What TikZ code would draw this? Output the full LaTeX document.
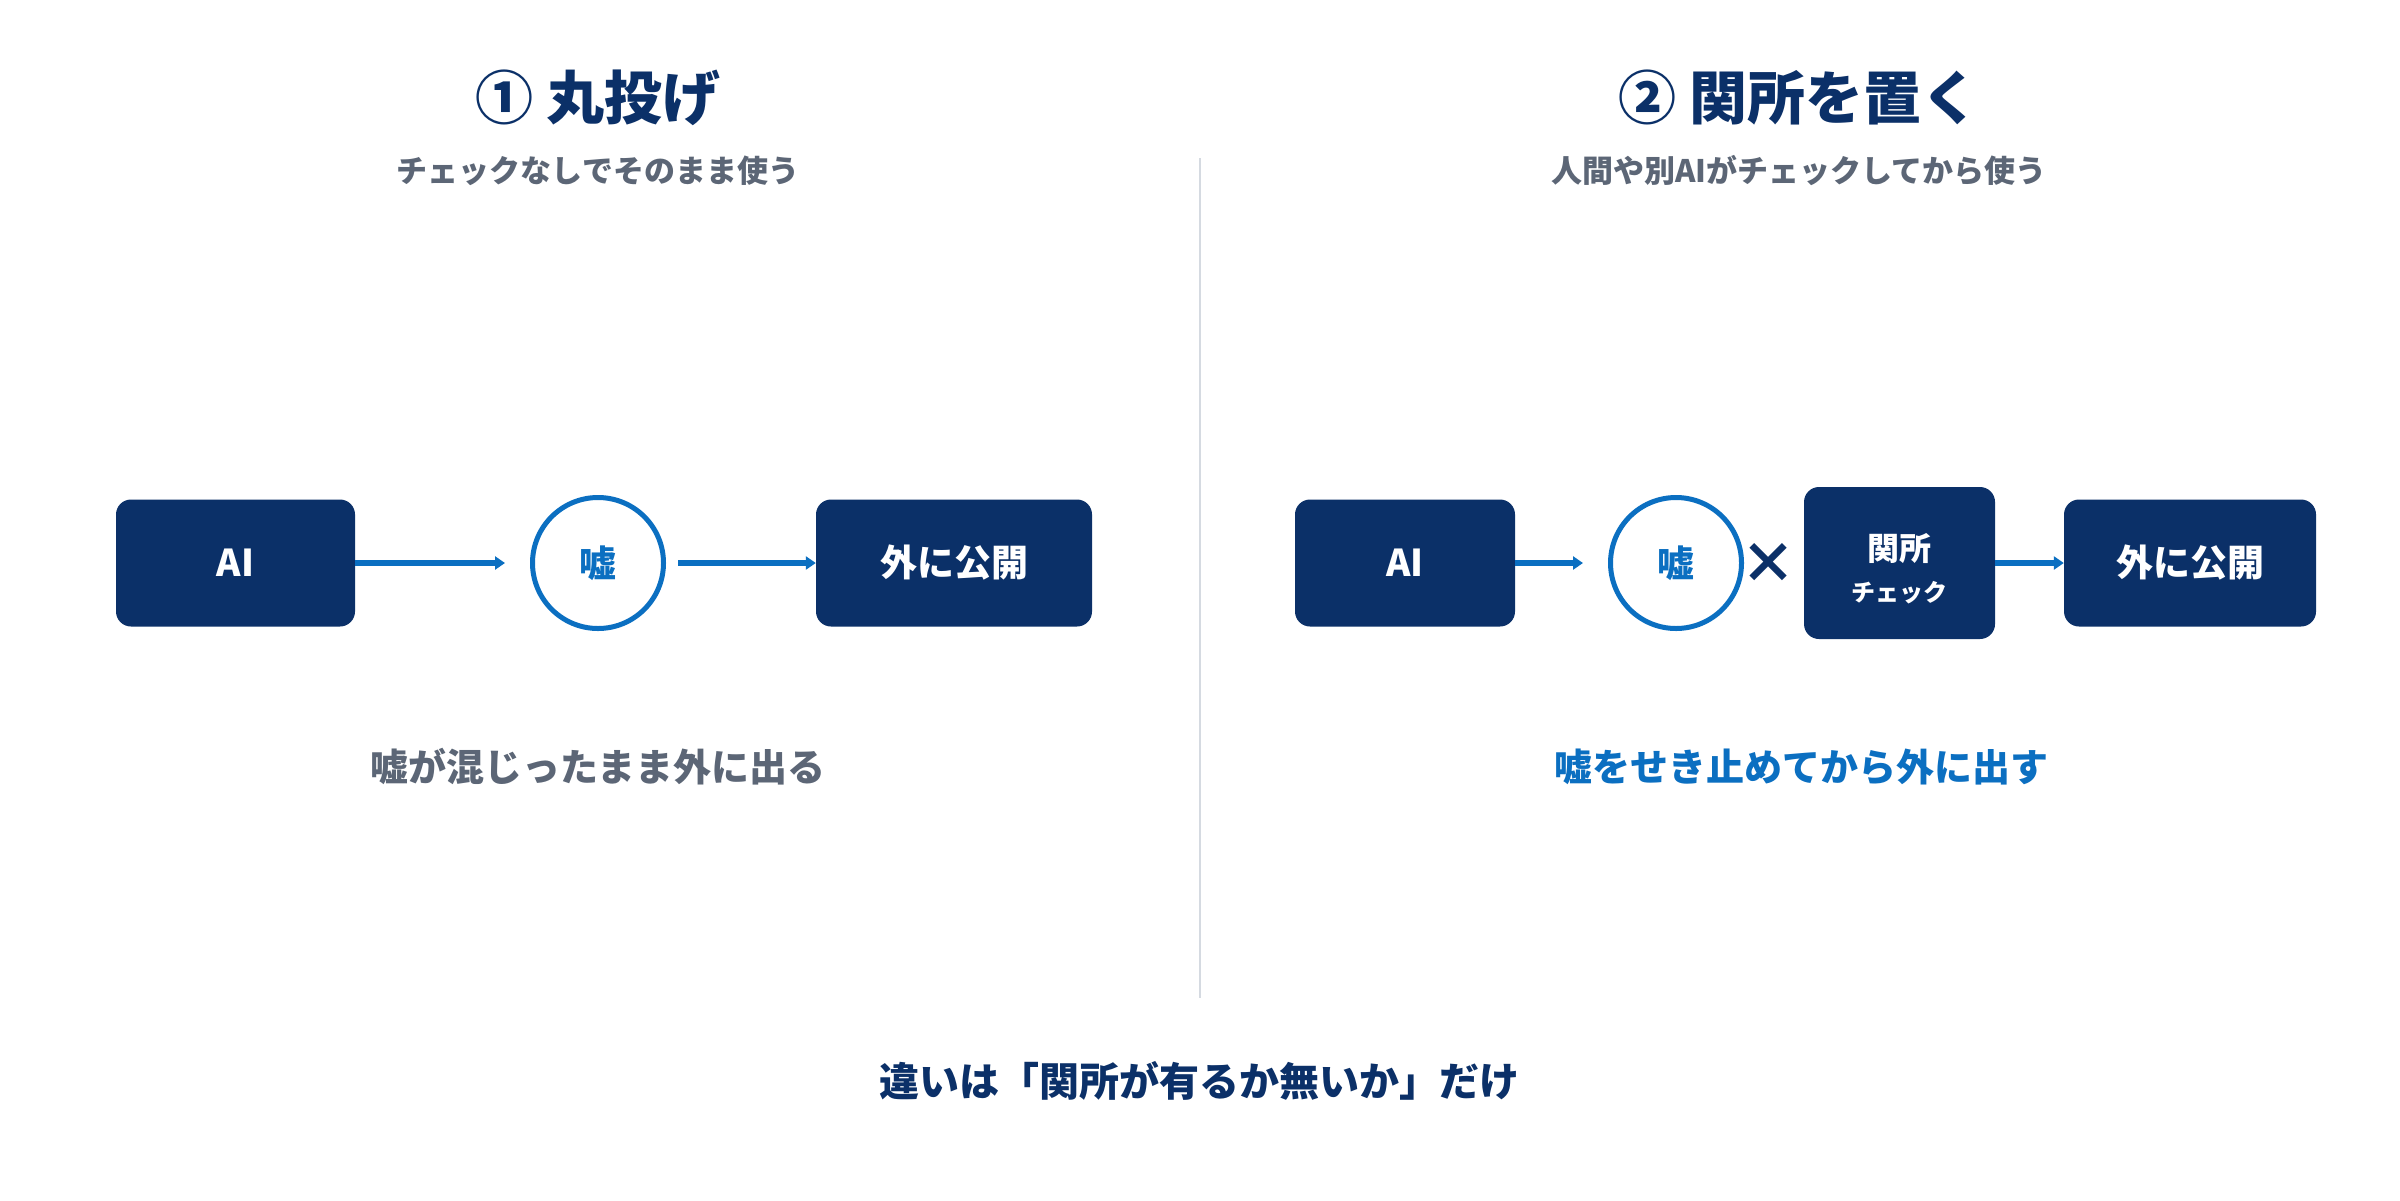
\documentclass[tikz,border=0pt]{standalone}
\usepackage{fontspec}
\setmainfont{Noto Sans CJK JP}
\usetikzlibrary{arrows.meta}
\definecolor{navy}{HTML}{0B3068}
\definecolor{aiblue}{HTML}{0B6FC1}
\definecolor{slate}{HTML}{5C6676}
\definecolor{divider}{HTML}{D5DAE1}
\newcommand{\fs}[1]{\fontsize{#1}{#1}\selectfont}
\tikzset{
  box/.style={fill=navy, rounded corners=15pt, text=white, font=\bfseries\fs{37}, inner sep=0pt, minimum height=127pt},
  lie/.style={circle, draw=aiblue, line width=5pt, fill=white, minimum size=131pt, inner sep=0pt, text=aiblue, font=\bfseries\fs{37}},
  flow/.style={draw=aiblue, line width=5.5pt, -{Triangle[length=10pt,width=13pt]}},
  ttl/.style={text=navy, font=\bfseries\fs{58}, inner sep=0pt},
  subttl/.style={text=slate, font=\bfseries\fs{31}, inner sep=0pt},
  result/.style={font=\bfseries\fs{38}, inner sep=0pt},
}
\begin{document}
\begin{tikzpicture}[x=1pt,y=-1pt]
\useasboundingbox[fill=white] (0,0) rectangle (2400,1200);
% divider
\coordinate (divtop) at (1200,158);
\coordinate (divbot) at (1200,998);
\draw[divider, line width=2pt] (divtop) -- (divbot);
% titles
\node[ttl] (titleL) at (598,98) {① 丸投げ};
\node[subttl] (subL) at (598,171) {チェックなしでそのまま使う};
\node[ttl] (titleR) at (1799,98) {② 関所を置く};
\node[subttl] (subR) at (1799,171) {人間や別AIがチェックしてから使う};
% left flow
\node[box, minimum width=239pt] (aiL) at (235.5,563) {AI};
\node[lie] (lieL) at (598,563) {嘘};
\node[box, minimum width=276pt] (outL) at (954,563) {外に公開};
\draw[flow, shorten >=25pt] (aiL.east) -- (lieL.west);
\draw[flow, shorten <=12pt] (lieL.east) -- (outL.west);
% right flow
\node[box, minimum width=220pt] (aiR) at (1405,563) {AI};
\node[lie] (lieR) at (1676,563) {嘘};
\node[text=navy, font=\bfseries\fs{56}, inner sep=0pt] (cross) at (1768,563) {×};
\node[box, minimum width=191pt, minimum height=152pt] (gate) at (1899.5,563) {};
\node[text=white, font=\bfseries\fs{32}, inner sep=0pt] (gateT) at (1899.5,549) {関所};
\node[text=white, font=\bfseries\fs{24}, inner sep=0pt] (gateS) at (1899.5,593) {チェック};
\node[box, minimum width=252pt] (outR) at (2190,563) {外に公開};
\draw[flow, shorten >=25pt] (aiR.east) -- (lieR.west);
\draw[flow] (gate.east) -- (outR.west);
% results
\node[result, text=slate] (resL) at (598,767) {嘘が混じったまま外に出る};
\node[result, text=aiblue] (resR) at (1801,767) {嘘をせき止めてから外に出す};
% bottom
\node[text=navy, font=\bfseries\fs{40}, inner sep=0pt] (bottom) at (1199,1081) {違いは「関所が有るか無いか」だけ};
\end{tikzpicture}
\end{document}
